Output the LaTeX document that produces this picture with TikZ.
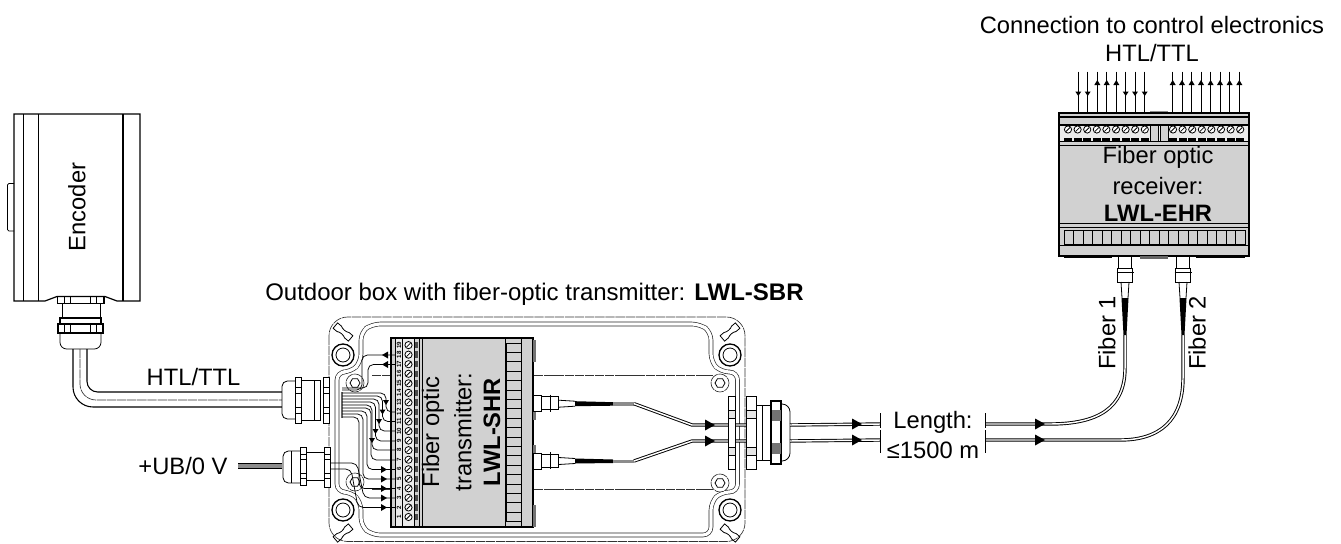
\documentclass[tikz,border=0pt]{standalone}
\usepackage{fontspec}
\setmainfont{Liberation Sans}
\usetikzlibrary{positioning,calc}

% small drawn parts, positions in pixels of the sheet
\newcommand{\righttip}[2]{\fill (#1,#2-5.5) -- (#1+10,#2) -- (#1,#2+5.5) -- cycle;}
\newcommand{\boltat}[2]{%
  \draw[lidline,fill=white,shift={(#1,#2)}] (0,0) circle[radius=9];
  \draw[partline,shift={(#1,#2)}] (0:5) -- (60:5) -- (120:5) -- (180:5) -- (240:5) -- (300:5) -- cycle;}
\newcommand{\bossat}[2]{%
  \draw[partline,line width=1pt,fill=white,shift={(#1,#2)}] (0,0) circle[radius=11];
  \draw[partline,shift={(#1,#2)}] (0,0) circle[radius=7];}
\newcommand{\slotat}[3]{%
  \draw[partline,shift={(#1,#2)},rotate=#3] (-10,-3.5) -- (-5,-3.5) .. controls (-2,-1.8) and (2,-1.8) .. (5,-3.5)
    -- (10,-3.5) -- (10,3.5) -- (5,3.5) .. controls (2,1.8) and (-2,1.8) .. (-5,3.5) -- (-10,3.5) -- cycle;}
\newcommand{\screwat}[2]{%
  \draw[partline,fill=white] (#1,#2) circle[radius=3.6];
  \draw[partline] ($(#1,#2)+(-2,2)$) -- ($(#1,#2)+(2,-2)$);}

\begin{document}
\begin{tikzpicture}[
    x=0.75pt, y=-0.75pt,
    % Normal labels
    textlabel/.style={font=\fontsize{17.8}{20}\selectfont, inner sep=0pt},
    boldlabel/.style={textlabel, font=\fontsize{17.8}{20}\selectfont\bfseries},
    % Drawn outlines
    partline/.style={draw=black, line width=0.6pt},
    heavyline/.style={draw=black, line width=1.2pt},
    lidline/.style={draw=black!80, line width=0.5pt, dash pattern=on 7pt off 0.6pt},
    lidpath/.style={draw=black!85, line width=0.5pt, double=white, double distance=2.4pt, rounded corners=6pt},
    % Fibers and wires
    fiber/.style={draw=black, line width=0.7pt, double=white, double distance=1.1pt},
    wire/.style={draw=black, line width=0.55pt, rounded corners=4pt},
    signal/.style={draw=black, line width=0.5pt},
    shell/.style={fill=black!18, draw=black, line width=0.8pt}
  ]
  \useasboundingbox (0,0) rectangle (1341,543);

  % --- ENCODER ---
  \draw[partline,rounded corners=1pt] (14,183.5) -- (7.5,183.5) -- (7.5,231) -- (14,231);
  \draw[heavyline,line width=0.9pt] (14,114) -- (140,114) -- (140,301) -- (117,301) -- (105,296.5) -- (57,296.5) -- (45,301) -- (14,301) -- cycle;
  \draw[partline] (23,114) -- (23,301);
  \draw[heavyline] (38.5,114) -- (38.5,301);
  \draw[heavyline] (123,114) -- (123,301);
  \node[textlabel, rotate=90] (encoder) at (77,207) {Encoder};
  % Gland below the encoder
  \draw[heavyline,line width=0.9pt] (57.5,296.5) rectangle (104,303.5);
  \draw[partline] (62,303.5) rectangle (100,318);
  \draw[heavyline,line width=0.9pt] (60,318) rectangle (101,324);
  \draw[heavyline,fill=white] (58,324) rectangle (103,333);
  \draw[partline,rounded corners=5pt] (60,333) -- (60,349) -- (101,349) -- (101,333);
  \foreach \x in {64,70,90,96} {
    \draw[partline] (\x,297) -- (\x,303);
    \draw[partline] (\x,325) -- (\x,332);
  }
  % Encoder cable
  \coordinate (enccableA) at (73,349);
  \coordinate (enccableB) at (80,349);
  \coordinate (enccableC) at (87,349);
  \coordinate (glandA) at (282,407);
  \coordinate (glandB) at (282,400);
  \coordinate (glandC) at (282,392);
  \draw[partline,line width=0.8pt,rounded corners=15pt] (enccableA) |- (glandA);
  \draw[lidline,rounded corners=12pt] (enccableB) |- (glandB);
  \draw[partline,line width=0.8pt,rounded corners=8pt] (enccableC) |- (glandC);
  \node[textlabel] (htlleft) at (193.5,377) {HTL/TTL};

  % --- POWER CABLE ---
  \node[textlabel] (power) at (183,466) {+UB/0 V};
  \coordinate (powerA) at (238,463.5);
  \coordinate (powerB) at (282,468.5);
  \fill[black!45] (powerA) rectangle (powerB);
  \draw[partline] (powerA) -- (powerA -| powerB);
  \draw[partline] (powerA |- powerB) -- (powerB);

  % --- OUTDOOR BOX ---
  \draw[lidline,rounded corners=14pt] (329,317) rectangle (745,541.5);
  \draw[lidpath] (372,324) -- (700,324) -- (711,332) -- (711,362) -- (721,372) -- (737.5,372) -- (737.5,492)
    -- (721,492) -- (711,502) -- (711,535) -- (372,535) -- (361,526) -- (361,502) -- (351,492)
    -- (337,492) -- (337,372) -- (351,372) -- (361,362) -- (361,332) -- cycle;
  \draw[lidline] (372,375.7) -- (713,375.7);
  \draw[lidline] (372,489) -- (713,489);
  \bossat{343}{355}
  \bossat{343}{510}
  \bossat{730}{355}
  \bossat{730}{510}
  \boltat{355}{383}
  \boltat{355}{482}
  \boltat{720}{383}
  \boltat{720}{483}
  \slotat{343}{332}{-40}
  \slotat{730}{332}{40}
  \slotat{343}{533}{40}
  \slotat{730}{533}{-40}
  \node[textlabel, anchor=west, font=\fontsize{18}{20}\selectfont] (boxtitle) at (265,294) {Outdoor box with fiber-optic transmitter: \textbf{LWL-SBR}};

  % Glands on the left side
  \draw[partline,fill=white,rounded corners=4pt] (296,381) -- (282,381) -- (282,419) -- (296,419);
  \draw[partline,fill=white] (295,377) rectangle (301,423);
  \draw[partline] (301,380) rectangle (320,420);
  \draw[partline] (314,380) -- (314,420);
  \draw[partline,fill=white] (323,377) rectangle (329.5,423);
  \draw[partline,fill=white,rounded corners=4pt] (301,451) -- (283,451) -- (283,483) -- (301,483);
  \draw[partline,fill=white] (300,447) rectangle (306,485);
  \draw[partline] (291,451) -- (291,483);
  \draw[partline] (306,452) rectangle (325,480);
  \draw[partline,fill=white] (324,447) rectangle (330,487);
  \foreach \y in {387,393,407,413} {
    \draw[partline] (295,\y) -- (301,\y);
    \draw[partline] (323,\y) -- (329.5,\y);
  }
  \foreach \y in {454,459,473,478} {
    \draw[partline] (300,\y) -- (306,\y);
    \draw[partline] (324,\y) -- (330,\y);
  }

  % --- TRANSMITTER MODULE ---
  \draw[shell] (391,338) rectangle (533,527);
  \fill[black!8] (395,339) rectangle (414,526);
  \draw[partline] (395,338) -- (395,527);
  \draw[partline] (402.7,338) -- (402.7,527);
  \draw[partline] (414,338) -- (414,527);
  \draw[partline] (419,338) -- (419,527);
  \draw[partline] (422.7,338) -- (422.7,527);
  \draw[partline] (505,338) -- (505,527);
  \draw[partline] (521.7,338) -- (521.7,527);
  \foreach \i in {1,...,19} {
    \pgfmathsetmacro{\py}{517-(\i-1)*9.55}
    \node[font=\fontsize{4.6}{5}\selectfont\bfseries, rotate=90, inner sep=0pt] (pin\i) at (399,\py) {\i};
    \screwat{408.5}{\py}
    \fill[black!70] (415.2,\py-3.2) rectangle (417.8,\py+3.2);
  }
  \foreach \i in {0,...,18} {
    \draw[partline,fill=black!18] (506.7,343+\i*9.4) rectangle (521.7,343+\i*9.4+9.4);
  }
  \foreach \y in {340,398,445,505} {
    \fill[black!55] (533,\y) rectangle (535.5,\y+22);
  }
  \node[textlabel, rotate=90] (txlineA) at (433,432) {Fiber optic};
  \node[textlabel, rotate=90] (txlineB) at (463,432) {transmitter:};
  \node[boldlabel, rotate=90] (txlineC) at (492,432) {LWL-SHR};

  % --- WIRES TO THE TERMINALS ---
  \draw[partline,line width=1.2pt,black!60] (342,392) -- (342,418);
  \foreach \i/\px/\py in {0/386/412,1/382.5/421.5,2/379/431,3/375.5/441,4/372/450} {
    \draw[wire] (342,393+3*\i) -- (\px,393+3*\i) -- (\px,\py) -- (395,\py);
    \fill (\px-3,\py-12) -- (\px+3,\py-12) -- (\px,\py-7) -- cycle;
  }
  \foreach \i/\px/\py in {0/371/460,1/367/469.5,2/363/479,3/359/488.5} {
    \draw[wire] (342,408+3*\i) -- (\px,408+3*\i) -- (\px,\py) -- (395,\py);
  }
  \draw[wire] (330,463) -- (357,463) -- (364,498) -- (395,498);
  \draw[wire] (330,469) -- (351,469) -- (358,507.5) -- (395,507.5);
  \draw[wire] (342,390) -- (362,390) -- (362,355) -- (395,355);
  \draw[wire] (342,388) -- (368,388) -- (368,364.5) -- (395,364.5);
  \foreach \y in {355,364.5} {
    \fill (382,\y) -- (388,\y-3.5) -- (388,\y+3.5) -- cycle;
  }
  \foreach \y in {469.5,479,488.5,498,507.5} {
    \fill (381,\y-3.5) -- (387,\y) -- (381,\y+3.5) -- cycle;
  }

  % --- FIBERS INSIDE THE BOX ---
  \foreach \name/\y in {sendA/403.7,sendB/461} {
    \draw[partline,fill=white] (533,\y-8) rectangle (541,\y+8);
    \draw[partline,fill=white] (541,\y-7) rectangle (558.7,\y+6);
    \draw[partline] (550,\y-9) -- (550,\y+8);
    \draw[partline] (558.7,\y-3.5) -- (575,\y-2.5);
    \draw[partline] (558.7,\y+3.5) -- (575,\y+2.5);
    \fill (575,\y-2.5) -- (613,\y-1.5) -- (613,\y+2) -- (575,\y+2.5) -- cycle;
    \fill[black!45] (613,\y-1.5) rectangle (634,\y+2);
    \coordinate (\name) at (634,\y);
  }
  \coordinate (bendA) at (692,425);
  \coordinate (bendB) at (692,441);
  \coordinate (outA) at (790,425);
  \coordinate (outB) at (790,441);
  \draw[fiber] (sendA) -- (bendA) -- (outA);
  \draw[fiber] (sendB) -- (bendB) -- (outB);
  \righttip{705}{425}
  \righttip{705}{441}

  % Gland on the right side
  \draw[partline,fill=white] (728,396) rectangle (735,469);
  \draw[partline,fill=white] (746,396) rectangle (756,469);
  \draw[partline,fill=white] (756,405) rectangle (771,460);
  \draw[partline] (762,405) -- (762,460);
  \draw[partline,fill=white,rounded corners=6pt] (780,404) -- (790,404) -- (790,461) -- (780,461);
  \draw[heavyline,fill=white] (771,401) rectangle (781,464);
  \foreach \y in {410,447} {
    \draw[partline,fill=black!10] (728,\y) rectangle (735,\y+8);
    \draw[partline,fill=black!10] (746,\y) rectangle (756,\y+8);
  }
  \foreach \y in {410,443} {
    \fill[black!55] (771.5,\y) rectangle (780.5,\y+11);
  }

  % --- LONG FIBER RUN ---
  \coordinate (breakLA) at (880,424);
  \coordinate (breakLB) at (880,440);
  \coordinate (breakRA) at (985,424);
  \coordinate (breakRB) at (985,440);
  \coordinate (recvA) at (1125,335);
  \coordinate (recvB) at (1183,335);
  \draw[fiber] (outA) -- (breakLA);
  \draw[fiber] (outB) -- (breakLB);
  \draw[fiber] (breakRA) -- (1050,424) .. controls (1098,424) and (1125,408) .. (1125,368) -- (recvA);
  \draw[fiber] (breakRB) -- (1120,440) .. controls (1160,440) and (1183,420) .. (1183,378) -- (recvB);
  \foreach \x in {852,1035} {
    \righttip{\x}{424}
    \righttip{\x}{440}
  }
  \foreach \x in {880.5,985} {
    \draw[signal] (\x,413) -- (\x,428);
    \draw[signal] (\x,430) -- (\x,453);
  }
  \node[textlabel] (lengthA) at (933,422) {Length:};
  \node[textlabel] (lengthB) at (933,450) {≤1500 m};
  \node[textlabel, rotate=90] (fiberA) at (1107,333) {Fiber 1};
  \node[textlabel, rotate=90] (fiberB) at (1197,333) {Fiber 2};

  % --- RECEIVER MODULE ---
  \fill[black!45] (1150,110.5) rectangle (1168,113);
  \draw[shell] (1059,113) rectangle (1249,256);
  \fill[black!8] (1060,125.5) rectangle (1248,141);
  \draw[heavyline] (1059,117) -- (1249,117);
  \draw[heavyline] (1059,125) -- (1249,125);
  \draw[partline] (1059,141.7) -- (1249,141.7);
  \draw[partline] (1059,145) -- (1249,145);
  \draw[partline] (1059,223) -- (1249,223);
  \draw[partline] (1059,227.7) -- (1249,227.7);
  \draw[partline] (1059,245) -- (1249,245);
  \draw[partline,fill=black!18] (1150,125) rectangle (1158,141.7);
  \draw[partline,fill=black!18] (1160,125) rectangle (1168,141.7);
  \foreach \i in {0,...,8} {
    \screwat{1068+\i*9.6}{129.5}
    \fill (1064+\i*9.6,137.7) rectangle (1072+\i*9.6,140.5);
  }
  \foreach \i in {0,...,7} {
    \screwat{1173+\i*9.6}{129.5}
    \fill (1169+\i*9.6,137.7) rectangle (1177+\i*9.6,140.5);
  }
  \foreach \i in {0,...,18} {
    \draw[partline,fill=black!18] (1064+\i*9.53,230) rectangle (1064+\i*9.53+9.53,244);
  }
  \fill (1064,256) rectangle (1112,258);
  \fill[black!60] (1140,256) rectangle (1168,258.5);
  \fill (1196,256) rectangle (1245,258);
  \node[textlabel] (rxlineA) at (1158,157) {Fiber optic};
  \node[textlabel] (rxlineB) at (1158,186) {receiver:};
  \node[boldlabel] (rxlineC) at (1158,213) {LWL-EHR};

  % Receiver connectors with the fiber tails
  \foreach \name/\x in {recvA/1125,recvB/1183} {
    \draw[partline,fill=white] (\x-6.5,256) rectangle (\x+6.5,268);
    \draw[partline,fill=white] (\x-7.5,268) rectangle (\x+7.5,282);
    \draw[partline] (\x-8.5,272) -- (\x+8.5,272);
    \draw[partline] (\x-4,282) -- (\x-3,298);
    \draw[partline] (\x+4,282) -- (\x+3,298);
    \fill (\x-3.5,298) -- (\x+3.5,298) -- (\x+1.5,335) -- (\x-1.5,335) -- cycle;
  }

  % --- SIGNAL LINES AT THE TOP ---
  \foreach \x in {1078.3,1087.7,1097.3,1106.7,1116.3,1125.7,1135,1144.7,1172.7,1182,1191.6,1201,1210.6,1220,1229.6,1239.3} {
    \draw[signal] (\x,71.7) -- (\x,113);
  }
  \foreach \x in {1078.3,1087.7,1125.7,1135,1144.7} {
    \fill (\x-3,91.5) -- (\x+3,91.5) -- (\x,96) -- cycle;
  }
  \foreach \x in {1097.3,1106.7,1116.3,1172.7,1182,1191.6,1201,1210.6,1220,1229.6,1239.3} {
    \fill (\x-3,85) -- (\x+3,85) -- (\x,80) -- cycle;
  }
  \node[textlabel] (connectA) at (1152,25) {Connection to control electronics};
  \node[textlabel] (connectB) at (1152,53) {HTL/TTL};
\end{tikzpicture}
\end{document}
